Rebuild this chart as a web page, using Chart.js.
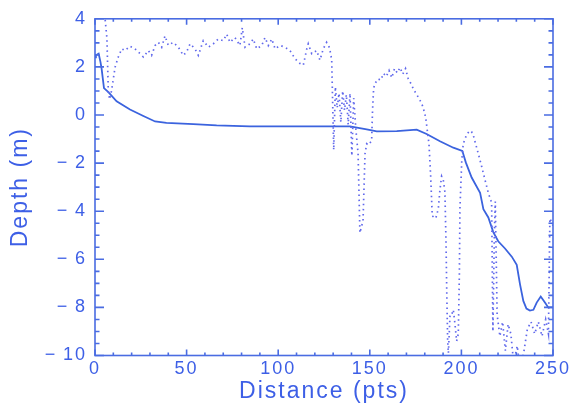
<!DOCTYPE html>
<html>
<head>
<meta charset="utf-8">
<script src="https://cdn.jsdelivr.net/npm/chart.js@4.4.1/dist/chart.umd.min.js"></script>
<style>
  html, body { margin: 0; padding: 0; background: #fff; }
  #wrap { width: 577px; height: 407px; }
</style>
</head>
<body>
<div id="wrap"><canvas id="depthChart" width="577" height="407"></canvas></div>
<script>
// axis ticks
const xTicks = [0, 50, 100, 150, 200, 250];
const yTicks = [4, 2, 0, -2, -4, -6, -8, -10];

// solid profile
const solidX = [0, 0.5, 2, 3, 3.6, 4.9, 7.3, 11.8, 19.1, 26.4, 32.8, 39, 53.7, 66.4, 84.6, 131,
    139.2, 148.3, 153.8, 164.7, 175.6, 181, 188.3, 195.6, 200.5, 202.4, 205.6, 210.2, 212, 214.7,
    217.4, 220.1, 223.8, 227.5, 230.2, 232, 233.8, 235.5, 237.4, 239.3, 241.1, 243.3, 245.6, 247.4, 250];
const solidY = [2.4, 2.48, 2.55, 2.2, 1.93, 1.12, 0.95, 0.57, 0.23, -0.04, -0.27, -0.33, -0.38, -0.43, -0.47, -0.47,
    -0.47, -0.6, -0.68, -0.67, -0.61, -0.79, -1.09, -1.36, -1.49, -1.97, -2.6, -3.24, -3.92, -4.26,
    -4.87, -5.25, -5.55, -5.89, -6.23, -7.04, -7.73, -8.05, -8.13, -8.1, -7.8, -7.55, -7.8, -8.0, -8.0];

// dotted profile
const dottedX = [4.5, 6.5, 7.3, 8, 9, 10, 11, 12.7, 14.6, 16.4, 19.1, 21.8, 24.6, 26.4, 29.1, 30.9,
    32.8, 34.6, 36.4, 38.2, 40, 42.7, 45.5, 48.2, 50, 51.9, 54.6, 56.4, 59.1, 61.9, 64.6, 67.3,
    70, 71.9, 73.7, 76.4, 79.1, 80.4, 81.9, 84.6, 86.4, 88.3, 91, 92.8, 94.6, 96.5, 98.3, 101,
    103.7, 106.4, 109.2, 111.9, 113.7, 115.6, 116.4, 118.3, 121, 122.8, 124.6, 126.4, 128, 129.2,
    130.3, 131.2, 132.2, 133.2, 134.2, 135.2, 136.2, 137.2, 138.2, 139.2, 140.2, 141.2, 142.4, 143.6,
    144.6, 146.3, 147.4, 148.3, 149.2, 151, 151.5, 152.1, 152.9, 154.5, 156, 157.5, 159, 160.5,
    162, 163.5, 165, 166.5, 168, 169.5, 171, 172.5, 174, 175.6, 177.5, 179, 180.5, 182.3,
    183.2, 184.1, 186, 187.4, 188.3, 189.2, 190.1, 191, 191.6, 192, 192.5, 192.9, 193.8, 194.7,
    195.6, 196.5, 197.4, 198.3, 198.9, 199.2, 200.2, 201, 202.9, 204.7, 206.2, 207.4, 209.2, 211.1,
    212.9, 214.7, 216.5, 217.2, 218, 218.5, 219.5, 221, 222.5, 224, 225.5, 227, 228.5, 230.5,
    232, 234, 236, 238, 240, 242, 244, 246, 247.5, 248.3, 250];
const dottedY = [4.8, 3.2, 0.9, 0.65, 1.0, 1.5, 2.0, 2.41, 2.75, 2.68, 2.86, 2.75, 2.55, 2.41, 2.68, 2.48,
    2.89, 3.02, 2.82, 3.29, 2.9, 3.02, 2.82, 2.48, 2.62, 2.96, 2.75, 2.48, 3.09, 2.82, 2.96, 3.16,
    3.09, 3.36, 3.02, 3.22, 2.89, 3.63, 2.82, 2.96, 3.16, 2.75, 2.89, 3.22, 2.89, 3.16, 2.75, 2.89,
    2.82, 2.68, 2.34, 2.14, 2.07, 2.75, 2.96, 2.55, 2.68, 2.28, 2.75, 3.02, 2.8, 2.3,
    -1.45, 1.17, 0.3, 0.9, -0.3, 1.0, 0.2, 0.85, -0.4, 0.9, -1.7, 0.7, -0.6, -1.6,
    -4.9, -4.4, -1.6, -1.2, -1.25, -1.07, 0.2, 1.12, 1.32, 1.5, 1.45, 1.73, 1.6, 1.85,
    1.55, 1.93, 1.75, 1.97, 1.7, 1.93, 1.5, 1.3, 1.05, 0.85, 0.6, 0.35, -0.1, -1.2,
    -2.5, -4.2, -4.3, -3.9, -3.1, -2.55, -2.7, -3.2, -5.3, -7.3, -9.4, -9.9, -8.3, -8.3,
    -8.1, -8.7, -9.4, -9.1, -6.6, -3.9, -1.9, -1.2, -0.8, -0.65, -0.75, -1.1, -1.6, -2.15,
    -2.7, -3.24, -3.65, -9.0, -4.9, -3.6, -8.3, -9.2, -8.6, -9.8, -8.7, -9.1, -10.3, -9.6,
    -10.6, -9.9, -8.9, -8.6, -9.1, -8.6, -9.2, -8.5, -9.1, -4.3, -4.6];

const textBlue  = '#3d5fe6';
const axisBlue  = '#4a6ce2';
const lineBlue  = '#3b63de';
const dotBlue   = '#6068ec';

function toPoints(xs, ys) {
    return xs.map((x, i) => ({ x: x, y: ys[i] }));
}

function fmtTick(v) {
    return v < 0 ? '\u2212\u2009' + Math.abs(v) : String(v);
}

// draws the box and the inward tick marks on all four sides
const framePlugin = {
    id: 'frame',
    beforeDraw(chart) {
        chart.ctx.letterSpacing = '2px';
    },
    afterDatasetsDraw(chart) {
        const ctx = chart.ctx;
        const a = chart.chartArea;
        const xs = chart.scales.x, ys = chart.scales.y;
        ctx.save();
        ctx.letterSpacing = '0px';
        ctx.strokeStyle = axisBlue;
        ctx.lineWidth = 1.6;
        ctx.strokeRect(a.left, a.top, a.right - a.left, a.bottom - a.top);
        ctx.beginPath();
        for (let v = 0; v <= 250; v += 10) {
            const px = xs.getPixelForValue(v);
            const len = (v % 50 === 0) ? 6 : 3;
            ctx.moveTo(px, a.bottom); ctx.lineTo(px, a.bottom - len);
            ctx.moveTo(px, a.top);    ctx.lineTo(px, a.top + len);
        }
        for (let v = -10; v <= 4; v += 0.5) {
            const py = ys.getPixelForValue(v);
            const len = (v % 2 === 0) ? 9 : 4.5;
            ctx.moveTo(a.left, py);  ctx.lineTo(a.left + len, py);
            ctx.moveTo(a.right, py); ctx.lineTo(a.right - len, py);
        }
        ctx.stroke();
        ctx.restore();
        ctx.letterSpacing = '2px';
    }
};

const ctx = document.getElementById('depthChart').getContext('2d');
new Chart(ctx, {
    type: 'scatter',
    data: {
        datasets: [{
            data: toPoints(dottedX, dottedY),
            showLine: true,
            borderColor: dotBlue,
            borderWidth: 1.7,
            borderDash: [1.5, 3.6],
            pointRadius: 0,
            tension: 0
        }, {
            data: toPoints(solidX, solidY),
            showLine: true,
            borderColor: lineBlue,
            borderWidth: 1.8,
            pointRadius: 0,
            tension: 0
        }]
    },
    options: {
        responsive: false,
        animation: false,
        layout: { padding: { top: 12.7, right: 24, bottom: 0, left: 0 } },
        plugins: { legend: { display: false }, tooltip: { enabled: false } },
        scales: {
            x: {
                type: 'linear',
                min: 0, max: 250,
                afterBuildTicks: s => { s.ticks = xTicks.map(v => ({ value: v })); },
                afterFit: s => { s.height = 51.5; },
                grid: { display: false, drawTicks: false },
                border: { display: false },
                ticks: {
                    color: textBlue, padding: 3, maxRotation: 0, autoSkip: false,
                    font: { family: 'Liberation Sans, Arial, sans-serif', size: 18 },
                    callback: fmtTick
                },
                title: {
                    display: true, text: 'Distance (pts)', color: textBlue,
                    font: { family: 'Liberation Sans, Arial, sans-serif', size: 23 },
                    padding: { top: 0, bottom: 2 }
                }
            },
            y: {
                type: 'linear',
                min: -10, max: 4,
                afterBuildTicks: s => { s.ticks = yTicks.map(v => ({ value: v })); },
                afterFit: s => { s.width = 95; },
                grid: { display: false, drawTicks: false },
                border: { display: false },
                ticks: {
                    color: textBlue, padding: 8, autoSkip: false,
                    font: { family: 'Liberation Sans, Arial, sans-serif', size: 18 },
                    callback: fmtTick
                },
                title: {
                    display: true, text: 'Depth (m)', color: textBlue,
                    font: { family: 'Liberation Sans, Arial, sans-serif', size: 23 },
                    padding: { top: 7, bottom: 0 }
                }
            }
        }
    },
    plugins: [framePlugin]
});
</script>
</body>
</html>
